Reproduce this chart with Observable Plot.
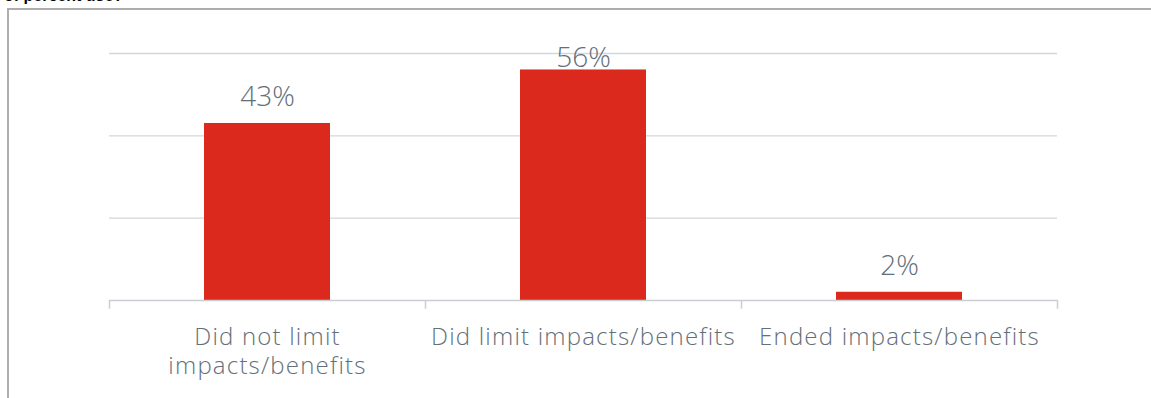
<!DOCTYPE html>
<html>
<head>
<meta charset="utf-8">
<script src="https://cdn.jsdelivr.net/npm/d3@7"></script>
<script src="https://cdn.jsdelivr.net/npm/@observablehq/plot@0.6"></script>
<style>
  html, body { margin: 0; padding: 0; background: #fff; }
  #wrap { position: relative; width: 1151px; height: 398px; overflow: hidden; }
  #title { position: absolute; left: 4px; top: -12px; font: bold 16px "Liberation Sans", Arial, sans-serif; color: #000; white-space: nowrap; line-height: 16px; }
  #frame { position: absolute; left: 7px; top: 8px; width: 1200px; height: 420px; border-left: 2px solid #adadad; border-top: 2px solid #adadad; }
  #chart { position: absolute; left: 0; top: 0; }
  #chart g[aria-label="x-axis tick label"] text { letter-spacing: 1.2px; }
</style>
</head>
<body>
<div id="wrap">
  <div id="title">of percent use?</div>
  <div id="frame"></div>
  <div id="chart"></div>
</div>
<script>
const categories = ["Did not limit\nimpacts/benefits", "Did limit impacts/benefits", "Ended impacts/benefits"];
const values = [43, 56, 2];
const labels = ["43%", "56%", "2%"];
const yTicks = [20, 40, 60];

const data = categories.map((c, i) => ({category: c, value: values[i], label: labels[i]}));

const W = 1151, H = 398, ML = 109, MR = 94, MT = 53, MB = 98;
const step = (W - ML - MR) / categories.length;
const font = "'Open Sans', Lato, sans-serif";
const textColor = "#636f79";
const gridColor = "#d3d7db";
const axisColor = "#c9cdd1";

const chart = Plot.plot({
  width: W,
  height: H,
  marginLeft: ML,
  marginRight: MR,
  marginTop: MT,
  marginBottom: MB,
  style: {fontFamily: font, background: "transparent", overflow: "visible"},
  x: {domain: categories, paddingInner: 0.6, paddingOuter: 0.3, label: null},
  y: {domain: [0, 60], label: null, axis: null},
  marks: [
    Plot.ruleY(yTicks, {stroke: gridColor, strokeWidth: 1.3}),
    Plot.barY(data, {x: "category", y: "value", fill: "#db291d"}),
    Plot.ruleY([0], {stroke: axisColor, strokeWidth: 1.5}),
    Plot.ruleX(categories, {x: d => d, dx: -step / 2, y1: 0, y2: -2.1, stroke: axisColor, strokeWidth: 1.5}),
    Plot.ruleX(categories.slice(-1), {x: d => d, dx: step / 2, y1: 0, y2: -2.1, stroke: axisColor, strokeWidth: 1.5}),
    Plot.text(data, {x: "category", y: d => Math.min(d.value + 4.3, 56.7), text: "label", lineAnchor: "bottom", fontSize: 28, fill: textColor, fontWeight: 300}),
    Plot.axisX({tickSize: 0, tickPadding: 25, fontSize: 24, lineHeight: 1.17, fill: textColor, fontWeight: 300, label: null}),
  ]
});
document.getElementById("chart").appendChild(chart);
</script>
</body>
</html>
